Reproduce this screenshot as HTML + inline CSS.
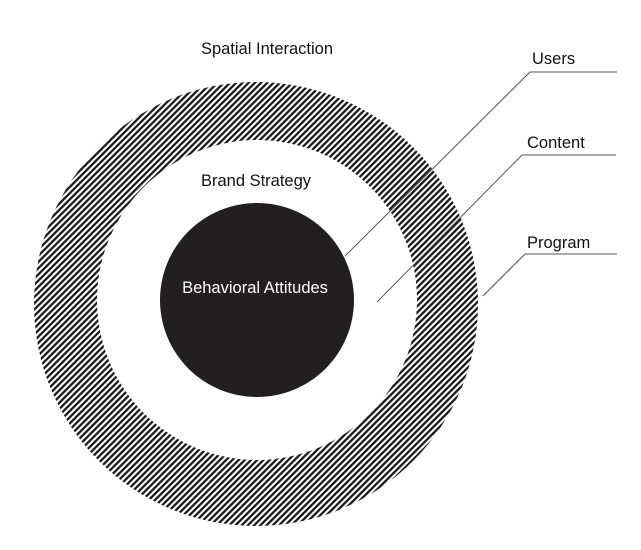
<!DOCTYPE html>
<html><head><style>
html,body{margin:0;padding:0;background:#fff;}
svg{display:block;}
text{font-family:"Liberation Sans",sans-serif;font-size:16.5px;}
</style></head><body>
<svg width="641" height="550" viewBox="0 0 641 550" xmlns="http://www.w3.org/2000/svg">
<defs>
<pattern id="h" patternUnits="userSpaceOnUse" width="4.4" height="4.4" patternTransform="rotate(45)">
<rect width="4.4" height="4.4" fill="#fff"/>
<rect width="2.3" height="4.4" fill="#1a1a1a"/>
</pattern>
</defs>
<circle cx="256" cy="304" r="222" fill="url(#h)"/>
<circle cx="257" cy="300" r="160" fill="#fff"/>
<circle cx="257" cy="300" r="97" fill="#231f20"/>
<g stroke="#555" stroke-width="1" fill="none">
<polyline points="617,72 530,72 345,256"/>
<polyline points="616,155 522,155 377,302"/>
<polyline points="617,254 525,254 483,296"/>
</g>
<text x="267" y="54" text-anchor="middle" fill="#111">Spatial Interaction</text>
<text x="256" y="186" text-anchor="middle" fill="#111">Brand Strategy</text>
<text x="255" y="293" text-anchor="middle" fill="#fff">Behavioral Attitudes</text>
<text x="532" y="64" fill="#111">Users</text>
<text x="527" y="148" fill="#111">Content</text>
<text x="527" y="248" fill="#111">Program</text>
</svg>
</body></html>
